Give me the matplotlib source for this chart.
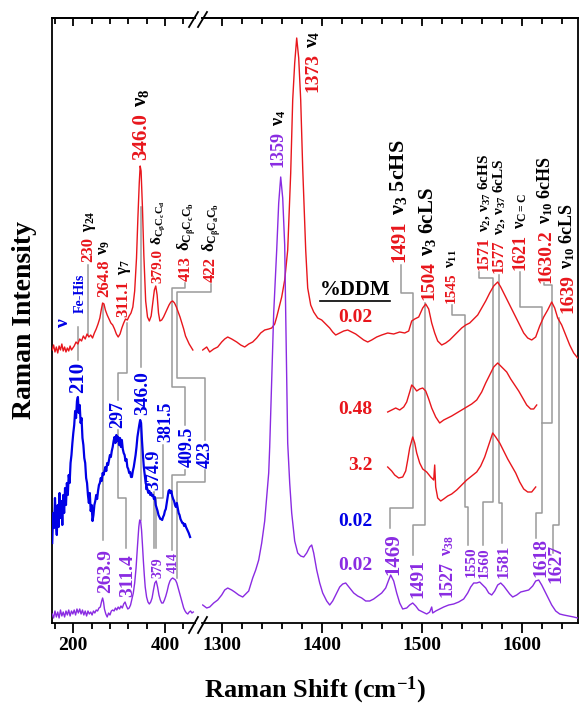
import matplotlib
matplotlib.use('Agg')
import matplotlib.pyplot as plt
from matplotlib.ticker import MultipleLocator, FixedLocator
from matplotlib.lines import Line2D

plt.rcParams['font.family'] = ['Liberation Serif', 'DejaVu Serif']
plt.rcParams['font.weight'] = 'bold'
plt.rcParams['mathtext.fontset'] = 'custom'
plt.rcParams['mathtext.rm'] = 'Liberation Serif:bold'
plt.rcParams['mathtext.it'] = 'Liberation Serif:bold'
plt.rcParams['mathtext.bf'] = 'Liberation Serif:bold'

RED = '#e8161c'
BLUE = '#0000e6'
PURPLE = '#8a2be2'
GRAY = '#9a9a9a'

# ---- spectra, (wavenumber, intensity a.u.) ----
red_low = [(154,273),(157,278),(160,271),(163,276),(166,270),(169,277),(172,273),(175,279),
           (178,272),(181,276),(184,271),(187,275),(190,272),(193,277),(196,273),(199,275),
           (202,277),(206,281),(210,279),(214,284),(218,282),(222,287),(226,284),(230,289),
           (234,286),(238,288),(242,285),(246,290),(250,294),(254,299),(258,305),(261,313),
           (264,320),(267,319),(270,313),(274,308),(278,304),(282,300),(286,298),(290,294),
           (294,289),(298,286),(302,289),(306,295),(310,300),(314,304),(318,303),(322,307),
           (326,310),(330,316),(334,332),(338,365),(341,405),(344,440),(346,457),(348,452),
           (351,415),(354,368),(358,322),(362,306),(366,302),(370,307),(374,322),(377,333),
           (380,337),(383,328),(386,310),(389,302),(393,303),(397,306),(401,310),(405,314),
           (409,318),(413,321),(417,322),(421,320),(425,316),(429,311),(433,306),(437,300),
           (441,294),(445,287),(449,283),(453,279),(457,276),(461,273)]
red_high = [(1281,273),(1285,276),(1288,271),(1292,274),(1296,276),(1300,281),(1303,284),
            (1306,286),(1310,284),(1315,281),(1319,278),(1323,276),(1327,279),(1331,281),
            (1335,285),(1339,290),(1343,293),(1347,294),(1350,295),(1353,299),(1355,306),
            (1358,318),(1360,326),(1363,343),(1366,373),(1369,450),(1371,523),(1373,560),
            (1375,585),(1377,565),(1379,523),(1381,455),(1384,373),(1386,335),(1389,318),
            (1392,311),(1396,305),(1400,303),(1404,299),(1408,295),(1411,291),(1414,288),
            (1418,290),(1422,292),(1426,293),(1430,291),(1434,289),(1438,286),(1442,283),
            (1446,281),(1450,283),(1455,286),(1460,288),(1466,290),(1472,289),(1478,291),
            (1483,290),(1487,292),(1490,302),(1493,304),(1497,306),(1501,315),(1504,319),
            (1507,314),(1510,300),(1513,290),(1516,282),(1520,278),(1524,280),(1528,283),
            (1532,287),(1536,291),(1540,295),(1544,298),(1548,300),(1552,304),(1556,308),
            (1560,315),(1564,322),(1568,330),(1572,337),(1576,341),(1579,336),(1582,330),
            (1586,322),(1590,314),(1594,306),(1598,298),(1602,290),(1606,285),(1610,283),
            (1614,286),(1618,297),(1622,306),(1626,313),(1630,321),(1633,315),(1636,305),
            (1640,298),(1644,288),(1648,278),(1652,270),(1656,265)]
red_048 = [(1466,211),(1470,213),(1474,215),(1478,213),(1482,216),(1485,221),(1488,231),
           (1490,238),(1492,236),(1495,232),(1498,234),(1501,235),(1504,232),(1507,224),
           (1510,215),(1514,206),(1518,200),(1522,203),(1526,205),(1530,207),(1535,210),
           (1540,213),(1545,216),(1550,219),(1555,223),(1560,231),(1564,240),(1568,248),
           (1572,256),(1576,260),(1579,257),(1582,254),(1585,251),(1589,244),(1593,238),
           (1597,232),(1601,225),(1605,218),(1609,214),(1612,214),(1615,218)]
red_32 = [(1466,156),(1470,152),(1473,148),(1477,145),(1481,146),(1484,152),(1486,163),
          (1488,175),(1491,186),(1493,180),(1495,170),(1498,160),(1501,154),(1505,151),
          (1509,146),(1512,143),(1513,158),(1514,136),(1516,125),(1519,122),(1522,124),
          (1526,127),(1530,129),(1535,133),(1540,138),(1545,143),(1550,147),(1555,151),
          (1559,157),(1563,166),(1567,178),(1571,190),(1574,186),(1578,180),(1582,172),
          (1586,164),(1590,157),(1594,150),(1598,141),(1602,134),(1606,131),(1610,131),
          (1614,136)]
blue_low = [(154,80),(156,110),(158,95),(160,125),(162,100),(164,88),(166,118),(168,96),
            (170,130),(172,105),(174,122),(176,98),(178,128),(180,110),(182,135),(184,118),
            (186,140),(188,128),(190,148),(192,140),(194,160),(196,168),(198,180),(200,190),
            (202,198),(204,212),(206,205),(208,222),(210,226),(212,210),(214,218),(216,200),
            (218,205),(220,185),(222,178),(224,165),(226,160),(228,145),(230,140),(232,128),
            (234,120),(236,130),(238,112),(240,118),(242,102),(244,108),(246,118),(248,122),
            (250,128),(252,124),(254,132),(256,138),(258,140),(260,145),(262,142),(264,150),
            (266,148),(268,152),(270,156),(272,152),(274,160),(276,158),(278,163),(280,168),
            (282,166),(284,172),(286,176),(288,182),(290,186),(292,180),(294,188),(296,182),
            (298,186),(300,178),(302,185),(304,176),(306,183),(308,174),(310,170),(312,168),
            (314,162),(316,164),(318,156),(320,154),(322,150),(324,151),(326,146),(328,146),
            (330,152),(332,156),(334,162),(336,168),(338,176),(340,186),(342,192),(344,198),
            (346,203),(348,200),(350,182),(352,168),(354,156),(356,148),(358,140),(360,137),
            (362,133),(364,130),(366,132),(368,128),(370,130),(372,127),(374,128),(376,124),
            (378,126),(380,118),(382,115),(384,112),(386,108),(388,106),(390,104),(392,104),
            (394,103),(396,106),(398,108),(400,112),(402,114),(404,120),(406,126),(408,132),
            (410,133),(412,130),(414,132),(416,127),(418,124),(420,122),(422,118),(424,116),
            (426,120),(428,115),(430,110),(432,108),(434,104),(436,102),(438,100),(440,100),
            (442,97),(444,99),(446,96),(448,94),(450,92),(452,90),(455,86)]
purple_low = [(154,9),(157,5),(160,12),(163,6),(166,11),(169,5),(172,13),(175,7),(178,11),
              (181,6),(184,12),(187,8),(190,13),(193,7),(196,12),(199,9),(202,13),(205,8),
              (208,14),(211,10),(214,14),(217,9),(220,13),(223,8),(226,12),(229,7),(232,12),
              (235,9),(238,11),(241,8),(244,12),(247,10),(250,13),(253,12),(256,15),(259,16),
              (262,22),(264,25),(266,21),(268,14),(271,9),(274,6),(277,10),(280,8),(283,12),
              (286,13),(289,12),(292,15),(295,13),(298,16),(301,14),(304,17),(307,15),(310,19),
              (313,21),(316,17),(319,14),(322,15),(325,18),(328,24),(331,30),(334,40),(337,55),
              (340,76),(343,96),(345,103),(347,102),(349,93),(351,78),(353,62),(355,48),
              (357,36),(360,26),(363,21),(366,19),(369,21),(372,25),(375,33),(378,40),(381,42),
              (384,36),(387,28),(390,23),(393,20),(396,20),(399,23),(402,27),(405,32),(408,38),
              (411,42),(414,44),(417,45),(420,44),(423,43),(426,40),(429,35),(432,30),(435,25),
              (438,20),(441,15),(444,12),(447,10),(450,9),(453,11),(456,12),(459,10),(462,11)]
purple_high = [(1281,18),(1285,15),(1288,16),(1292,20),(1296,23),(1300,28),(1303,33),(1306,35),
               (1310,33),(1313,31),(1317,28),(1321,26),(1324,29),(1327,32),(1331,45),(1334,53),
               (1337,63),(1340,80),(1343,102),(1345,126),(1347,150),(1348,176),(1350,243),
               (1352,310),(1355,373),(1357,420),(1359,446),(1361,425),(1363,378),(1364,310),
               (1366,180),(1368,140),(1370,110),(1373,82),(1376,70),(1379,67),(1382,66),
               (1385,70),(1388,76),(1390,78),(1392,70),(1395,53),(1398,40),(1401,30),(1405,22),
               (1408,18),(1411,22),(1414,28),(1418,36),(1421,39),(1424,40),(1428,35),(1432,30),
               (1436,27),(1440,25),(1444,22),(1448,22),(1452,24),(1456,27),(1460,30),(1464,35),
               (1467,43),(1469,48),(1472,42),(1475,30),(1478,20),(1481,14),(1485,15),(1488,18),
               (1491,20),(1494,17),(1497,13),(1501,11),(1505,9),(1508,11),(1510,16),(1511,10),
               (1514,12),(1518,14),(1522,16),(1527,18),(1532,19),(1537,21),(1542,24),(1546,30),
               (1549,36),(1552,40),(1555,40),(1558,41),(1561,38),(1564,35),(1567,30),(1570,28),
               (1573,32),(1576,38),(1579,40),(1582,37),(1585,33),(1588,29),(1591,26),(1595,28),
               (1599,31),(1603,32),(1607,33),(1611,37),(1614,42),(1617,43),(1620,38),(1624,30),
               (1627,24),(1630,18),(1634,12),(1638,9),(1642,8),(1647,7),(1652,6),(1656,5)]

low_ticks = [200, 400]
high_ticks = [1300, 1400, 1500, 1600]
ddm_labels = ['0.02', '0.48', '3.2', '0.02', '0.02']
ddm_colors = [RED, RED, RED, BLUE, PURPLE]
ddm_levels = [306, 213, 157, 101, 58]

W, H = 580, 709
fig = plt.figure(figsize=(W / 100, H / 100), dpi=100)
renderer = fig.canvas.get_renderer()


def box(x0, x1):
    return [x0 / W, (H - 623) / H, (x1 - x0) / W, (623 - 18) / H]


ax1 = fig.add_axes(box(52, 195))
ax2 = fig.add_axes(box(202, 578))
ax1.set_xlim(153.5, 465.7)
ax2.set_xlim(1280.3, 1656.3)

for ax, major, minor in [(ax1, low_ticks, 40), (ax2, high_ticks, 20)]:
    ax.set_facecolor('none')
    ax.set_ylim(0, 605)
    ax.set_yticks([])
    ax.xaxis.set_major_locator(FixedLocator(major))
    ax.xaxis.set_minor_locator(MultipleLocator(minor))
    ax.tick_params(axis='x', which='major', direction='out', length=7, width=1.3,
                   labelsize=14, pad=3)
    ax.tick_params(axis='x', which='minor', direction='out', length=4, width=1.3)
    top = ax.secondary_xaxis('top')
    top.xaxis.set_major_locator(FixedLocator(major))
    top.xaxis.set_minor_locator(MultipleLocator(minor))
    top.tick_params(axis='x', which='major', direction='in', length=6, width=1.3,
                    labeltop=False)
    top.tick_params(axis='x', which='minor', direction='in', length=4, width=1.3)
    for s in ax.spines.values():
        s.set_linewidth(1.3)
    top.spines['top'].set_linewidth(1.3)
ax1.spines['right'].set_visible(False)
ax2.spines['left'].set_visible(False)


def trace(ax, pts, color, lw):
    xs, ys = zip(*pts)
    ax.plot(xs, ys, color=color, lw=lw, zorder=3)


trace(ax1, red_low, RED, 1.0)
trace(ax2, red_high, RED, 1.0)
trace(ax2, red_048, RED, 1.0)
trace(ax2, red_32, RED, 1.0)
trace(ax1, blue_low, BLUE, 1.6)
trace(ax1, purple_low, PURPLE, 1.0)
trace(ax2, purple_high, PURPLE, 1.0)

# ---- gray leader lines ----
leaders_low = [
    [(210, 296), (210, 263)],
    [(232, 358), (232, 288)],
    [(265, 318), (265, 83)],
    [(317, 300), (317, 250), (297.6, 250), (297.6, 223)],
    [(297.6, 193), (297.6, 125), (315, 125), (315, 75)],
    [(347, 416), (347, 256)],
    [(347, 200), (347, 103)],
    [(395.8, 178), (395.8, 125), (381, 125), (381, 75)],
    [(376, 131), (376, 75)],
    [(443.8, 340), (443.8, 335), (415.5, 335), (415.5, 236), (443.8, 236), (443.8, 198)],
    [(443.8, 153), (443.8, 148), (415.5, 148), (415.5, 73)],
    [(500.6, 339), (500.6, 331), (426.4, 331), (426.4, 245), (487.5, 245), (487.5, 183)],
    [(487.5, 153), (487.5, 141), (426.4, 141), (426.4, 45)],
]
leaders_high = [
    [(1479, 358), (1479, 330), (1491, 330), (1491, 115), (1468.5, 115), (1468.5, 95)],
    [(1503.5, 320), (1503.5, 98), (1491, 98), (1491, 68)],
    [(1530, 318), (1530, 308), (1543, 308), (1543, 116), (1546, 116), (1546, 78)],
    [(1557, 351), (1557, 345), (1571, 345), (1571, 121), (1561, 121), (1561, 78)],
    [(1577, 348), (1577, 120), (1580, 120), (1580, 80)],
    [(1598, 351), (1598, 316), (1620, 316), (1620, 110), (1614, 110), (1614, 85)],
    [(1622, 340), (1622, 338), (1630, 338), (1630, 200), (1620, 200)],
    [(1637, 305), (1637, 98), (1631, 98), (1631, 70)],
]
for ax, group in [(ax1, leaders_low), (ax2, leaders_high)]:
    for path in group:
        xs, ys = zip(*path)
        ax.plot(xs, ys, color=GRAY, lw=1.1, clip_on=False, zorder=1)


def tag(ax, x, y, num, color, size, tail=None, tail_color='black', tail_size=None):
    t = ax.text(x, y, num, color=color, fontsize=size, rotation=90,
                rotation_mode='anchor', ha='left', va='baseline')
    if tail:
        h = t.get_window_extent(renderer).height * 72 / fig.dpi
        ax.annotate(tail, (x, y), xytext=(0, h + size * 0.28), textcoords='offset points',
                    color=tail_color, fontsize=tail_size or size, rotation=90,
                    rotation_mode='anchor', ha='left', va='baseline', annotation_clip=False)


# left part
tag(ax1, 240.8, 361, '230', RED, 12, 'γ$_{24}$')
tag(ax1, 275.7, 326, '264.8', RED, 12, 'ν$_{9}$')
tag(ax1, 317.2, 306, '311.1', RED, 12, 'γ$_{7}$')
tag(ax1, 358.7, 463, '346.0', RED, 15, 'ν$_{8}$')
tag(ax1, 391.4, 340, '379.0', RED, 11, r'δ$_{C_{\beta}C_{c}C_{d}}$')
tag(ax1, 454.8, 342, '413', RED, 12, r'δ$_{C_{\beta}C_{c}C_{b}}$')
tag(ax1, 509.3, 341, '422', RED, 12, r'δ$_{C_{\beta}C_{a}C_{b}}$')
tag(ax1, 188.4, 295, 'ν', BLUE, 14)
tag(ax1, 223.4, 310, 'Fe-His', BLUE, 10)
tag(ax1, 221.2, 230, '210', BLUE, 15)
tag(ax1, 306.3, 195, '297', BLUE, 13)
tag(ax1, 360.9, 208, '346.0', BLUE, 14)
tag(ax1, 384.9, 133, '374.9', BLUE, 13)
tag(ax1, 411.1, 181, '381.5', BLUE, 13)
tag(ax1, 459.1, 156, '409.5', BLUE, 13)
tag(ax1, 498.4, 155, '423', BLUE, 13)
tag(ax1, 280.1, 30, '263.9', PURPLE, 14)
tag(ax1, 328.2, 26, '311.4', PURPLE, 14)
tag(ax1, 393.6, 45, '379', PURPLE, 10)
tag(ax1, 426.4, 50, '414', PURPLE, 10)

# right part
tag(ax2, 1361.3, 456, '1359', PURPLE, 13, 'ν$_{4}$')
tag(ax2, 1395.3, 531, '1373', RED, 14, 'ν$_{4}$')
tag(ax2, 1482.3, 361, '1491', RED, 15, 'ν$_{3}$ 5cHS', tail_size=16)
tag(ax2, 1511.3, 323, '1504', RED, 14, 'ν$_{3}$ 6cLS', tail_size=15)
tag(ax2, 1533.3, 320, '1545', RED, 11, 'ν$_{11}$')
tag(ax2, 1566.3, 353, '1571', RED, 12, 'ν$_{2}$, ν$_{37}$ 6cHS', tail_size=11)
tag(ax2, 1581.3, 350, '1577', RED, 12, 'ν$_{2}$, ν$_{37}$ 6cLS', tail_size=11)
tag(ax2, 1603.3, 353, '1621', RED, 13, 'ν$_{C=C}$', tail_size=12)
tag(ax2, 1628.3, 340, '1630.2', RED, 14, 'ν$_{10}$ 6cHS', tail_size=13)
tag(ax2, 1650.3, 310, '1639', RED, 14, 'ν$_{10}$ 6cLS', tail_size=13)
tag(ax2, 1476.3, 48, '1469', PURPLE, 15)
tag(ax2, 1500.3, 25, '1491', PURPLE, 14)
tag(ax2, 1530.3, 26, '1527', PURPLE, 13, 'ν$_{38}$', tail_color=PURPLE, tail_size=12)
tag(ax2, 1553.3, 46, '1550', PURPLE, 11)
tag(ax2, 1566.3, 45, '1560', PURPLE, 11)
tag(ax2, 1586.3, 45, '1581', PURPLE, 12)
tag(ax2, 1623.3, 46, '1618', PURPLE, 14)
tag(ax2, 1638.3, 40, '1627', PURPLE, 14)

ax2.text(1433, 333, '%DDM', fontsize=15, ha='center', va='center')
ax2.plot([1398, 1468], [322, 322], color='black', lw=1.2, clip_on=False)
for s, c, lv in zip(ddm_labels, ddm_colors, ddm_levels):
    ax2.text(1451, lv, s, color=c, fontsize=14, ha='right', va='center')

# axis break marks
for y0, y1 in [(27, 12), (633, 617)]:
    for dx in (0, 9):
        fig.add_artist(Line2D([(189 + dx) / W, (198 + dx) / W], [1 - y0 / H, 1 - y1 / H],
                              transform=fig.transFigure, color='black', lw=1.3))

fig.text(25 / W, 1 - 320 / H, 'Raman Intensity', rotation=90, ha='center', va='center',
         fontsize=20)
fig.text(315 / W, 1 - 690 / H, 'Raman Shift (cm$^{-1}$)', ha='center', va='center',
         fontsize=19)

fig.savefig('out.png', dpi=100)
